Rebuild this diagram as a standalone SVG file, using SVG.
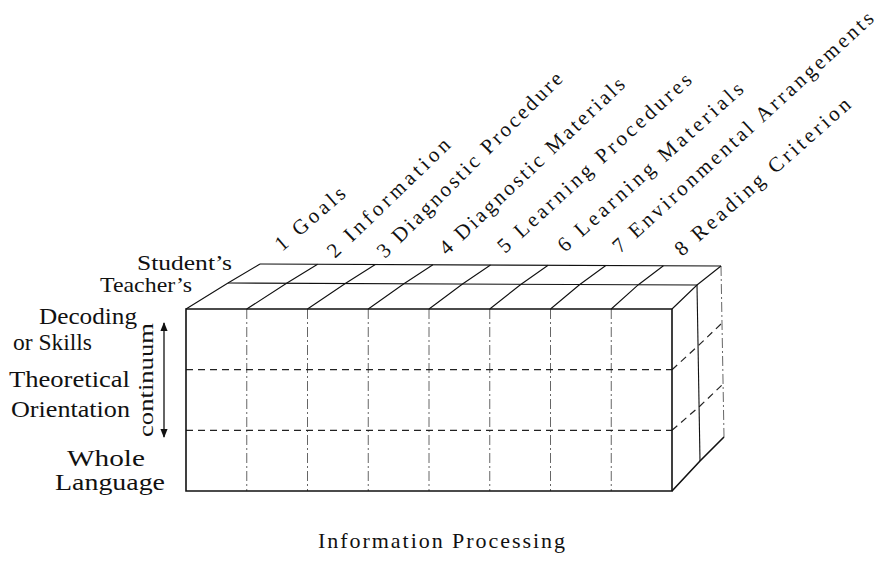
<svg xmlns="http://www.w3.org/2000/svg" width="882" height="564" viewBox="0 0 882 564">
<style>
  .lbl { font-family: "Liberation Serif", "DejaVu Serif", serif; fill: #111; }
  .top { font-size: 21px; }
  .side { font-size: 24px; }
  .edge { fill: none; stroke: #111; stroke-width: 1.6; }
  .thin { fill: none; stroke: #111; stroke-width: 1.1; }
  .dashdot { fill: none; stroke: #666; stroke-width: 1; stroke-dasharray: 10 3 2 3; }
  .dash { fill: none; stroke: #222; stroke-width: 1.2; stroke-dasharray: 7 5; }
</style>
<defs>
  <marker id="ah" viewBox="0 0 10 10" refX="9" refY="5" markerWidth="7" markerHeight="7" orient="auto-start-reverse">
    <path d="M0,1 L10,5 L0,9 Z" fill="#111"/>
  </marker>
</defs>
<rect width="882" height="564" fill="#fff"/>

<g id="block">
  <g id="front-grid">
    <path class="dashdot" d="M246.75,309V491M307.5,309V491M368.25,309V491M429,309V491M489.75,309V491M550.5,309V491M611.25,309V491"/>
    <path class="dash" d="M186,369.7H672M186,430.3H672"/>
  </g>
  <g id="right-face">
    <path class="dash" d="M672,369.7L698,346L722,323M672,430.3L700,406L723,384"/>
    <path class="dashdot" d="M721,266L724,437"/>
    <path class="thin" d="M697,285L700,461"/>
    <path class="edge" d="M672,491L700,461L724,437"/>
  </g>
  <g id="top-face">
    <path class="thin" d="M228,283L697,285M260,264L721,266"/>
    <path class="thin" d="M186,309L228,283L260,264M246.75,309L286.6,283.2L317.6,264.2M307.5,309L345.3,283.5L375.3,264.5M368.25,309L403.9,283.7L432.9,264.7M429,309L462.5,284L490.5,265M489.75,309L521.1,284.2L548.1,265.2M550.5,309L579.8,284.5L605.8,265.5M611.25,309L638.4,284.7L663.4,265.7M672,309L697,285L721,266"/>
  </g>
  <path class="edge" d="M186,309H672V491H186Z"/>
</g>

<g id="layer-labels">
  <text class="lbl side" x="137" y="270" textLength="95" lengthAdjust="spacingAndGlyphs" style="font-size:22px">Student’s</text>
  <text class="lbl side" x="100" y="292" textLength="92" lengthAdjust="spacingAndGlyphs" style="font-size:22px">Teacher’s</text>
</g>

<g id="row-labels">
  <text class="lbl side" x="39" y="324" textLength="98" lengthAdjust="spacingAndGlyphs">Decoding</text>
  <text class="lbl side" x="13" y="350" textLength="79" lengthAdjust="spacingAndGlyphs">or Skills</text>
  <text class="lbl side" x="9" y="387" textLength="121" lengthAdjust="spacingAndGlyphs">Theoretical</text>
  <text class="lbl side" x="11" y="417" textLength="119" lengthAdjust="spacingAndGlyphs">Orientation</text>
  <text class="lbl side" x="67" y="466" textLength="78" lengthAdjust="spacingAndGlyphs">Whole</text>
  <text class="lbl side" x="55" y="490" textLength="110" lengthAdjust="spacingAndGlyphs">Language</text>
</g>

<g id="continuum">
  <text class="lbl" style="font-size:22px" transform="translate(153,437) rotate(-90)" textLength="114" lengthAdjust="spacingAndGlyphs">continuum</text>
  <line x1="164" y1="380" x2="164" y2="323" stroke="#111" stroke-width="1.3" marker-end="url(#ah)"/>
  <line x1="164" y1="380" x2="164" y2="437" stroke="#111" stroke-width="1.3" marker-end="url(#ah)"/>
</g>

<g id="column-labels">
  <text class="lbl top" transform="translate(282,252) rotate(-41)" textLength="86" lengthAdjust="spacing">1 Goals</text>
  <text class="lbl top" transform="translate(335,259) rotate(-44)" textLength="162" lengthAdjust="spacing">2 Information</text>
  <text class="lbl top" transform="translate(385,259) rotate(-45)" textLength="253" lengthAdjust="spacing">3 Diagnostic Procedure</text>
  <text class="lbl top" transform="translate(447,256) rotate(-43.5)" textLength="247" lengthAdjust="spacing">4 Diagnostic Materials</text>
  <text class="lbl top" transform="translate(505,254) rotate(-42.5)" textLength="255" lengthAdjust="spacing">5 Learning Procedures</text>
  <text class="lbl top" transform="translate(565,253) rotate(-42)" textLength="242" lengthAdjust="spacing">6 Learning Materials</text>
  <text class="lbl top" transform="translate(620,254) rotate(-42.5)" textLength="346" lengthAdjust="spacing">7 Environmental Arrangements</text>
  <text class="lbl top" transform="translate(682,257) rotate(-41.5)" textLength="227" lengthAdjust="spacing">8 Reading Criterion</text>
</g>

<text id="axis-label" class="lbl" style="font-size:22px" x="318" y="548" textLength="247" lengthAdjust="spacing">Information Processing</text>
</svg>
